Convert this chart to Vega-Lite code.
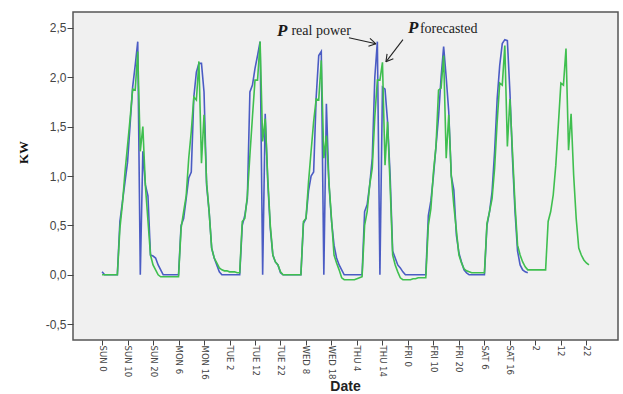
{
  "$schema": "https://vega.github.io/schema/vega-lite/v6.json",
  "width": 545,
  "height": 328,
  "autosize": {"type": "none"},
  "padding": {"left": 73, "top": 12, "right": 5, "bottom": 54},
  "background": "white",
  "config": {
    "view": {"stroke": "#555555", "strokeWidth": 1.5, "fill": "#f0f0f0"},
    "axis": {"grid": false, "domain": false, "tickColor": "#444444", "tickSize": 6, "labelFont": "Liberation Sans", "labelColor": "#444444"},
    "axisX": {"labelFont": "Liberation Sans Narrow, DejaVu Sans Condensed, Liberation Sans", "tickSize": 5, "labelAngle": 90, "labelAlign": "left", "labelBaseline": "middle", "labelFontSize": 9.5, "labelPadding": 0, "labelOverlap": false, "labelBound": false, "labelFlush": false, "labelSeparation": 0,
      "titleFont": "Liberation Sans", "titleFontWeight": "bold", "titleFontSize": 14, "titleColor": "#222222", "titleX": 272, "titleY": 50, "titleBaseline": "alphabetic", "titleAlign": "center"},
    "axisY": {"labelFontSize": 12, "labelPadding": 1, "labelOverlap": false,
      "titleFont": "Liberation Serif", "titleFontWeight": "bold", "titleFontSize": 13, "titleColor": "#111111", "titleAngle": -90, "titleX": -50, "titleY": 140, "titleAlign": "center", "titleBaseline": "middle"}
  },
  "datasets": {
    "series": [
      {"h":0,"r":0.03,"f":0},{"h":1,"r":0,"f":0},{"h":2,"r":0,"f":0},{"h":3,"r":0,"f":0},{"h":4,"r":0,"f":0},{"h":5,"r":0,"f":0},{"h":6,"r":0,"f":0},
      {"h":7,"r":0.54,"f":0.47},{"h":8,"r":0.74,"f":0.72},{"h":9,"r":0.94,"f":1.04},{"h":10,"r":1.14,"f":1.31},{"h":11,"r":1.52,"f":1.58},{"h":12,"r":1.9,"f":1.88},{"h":13,"r":2.12,"f":1.87},{"h":14,"r":2.36,"f":2.26},{"h":15,"r":0,"f":1.25},{"h":16,"r":1.25,"f":1.5},{"h":17,"r":0.91,"f":0.9},{"h":18,"r":0.8,"f":0.55},{"h":19,"r":0.2,"f":0.2},{"h":20,"r":0.19,"f":0.1},{"h":21,"r":0.17,"f":0.05},{"h":22,"r":0.1,"f":0},{"h":23,"r":0.05,"f":-0.02},
      {"h":24,"r":0,"f":-0.02},{"h":25,"r":0,"f":-0.02},{"h":26,"r":0,"f":-0.02},{"h":27,"r":0,"f":-0.02},{"h":28,"r":0,"f":-0.02},{"h":29,"r":0,"f":-0.02},{"h":30,"r":0,"f":-0.02},
      {"h":31,"r":0.5,"f":0.47},{"h":32,"r":0.57,"f":0.64},{"h":33,"r":0.77,"f":0.8},{"h":34,"r":0.98,"f":1.18},{"h":35,"r":1.04,"f":1.45},{"h":36,"r":1.8,"f":1.8},{"h":37,"r":2.05,"f":1.77},{"h":38,"r":2.14,"f":2.16},{"h":39,"r":2.14,"f":1.13},{"h":40,"r":1.85,"f":1.62},{"h":41,"r":0.91,"f":0.94},{"h":42,"r":0.64,"f":0.64},{"h":43,"r":0.27,"f":0.27},{"h":44,"r":0.17,"f":0.17},{"h":45,"r":0.1,"f":0.12},{"h":46,"r":0.03,"f":0.07},{"h":47,"r":0,"f":0.05},
      {"h":48,"r":0,"f":0.04},{"h":49,"r":0,"f":0.04},{"h":50,"r":0,"f":0.03},{"h":51,"r":0,"f":0.03},{"h":52,"r":0,"f":0.03},{"h":53,"r":0,"f":0.02},{"h":54,"r":0,"f":0.02},
      {"h":55,"r":0.5,"f":0.54},{"h":56,"r":0.6,"f":0.57},{"h":57,"r":0.77,"f":0.8},{"h":58,"r":1.85,"f":1.21},{"h":59,"r":1.92,"f":1.6},{"h":60,"r":2.09,"f":1.97},{"h":61,"r":2.22,"f":1.97},{"h":62,"r":2.36,"f":2.36},{"h":63,"r":0,"f":1.35},{"h":64,"r":1.63,"f":1.58},{"h":65,"r":0.94,"f":0.98},{"h":66,"r":0.47,"f":0.5},{"h":67,"r":0.2,"f":0.2},{"h":68,"r":0.13,"f":0.13},{"h":69,"r":0.1,"f":0.1},{"h":70,"r":0.02,"f":0.03},{"h":71,"r":0,"f":0},
      {"h":72,"r":0,"f":0},{"h":73,"r":0,"f":0},{"h":74,"r":0,"f":0},{"h":75,"r":0,"f":0},{"h":76,"r":0,"f":0},{"h":77,"r":0,"f":0},{"h":78,"r":0,"f":0},
      {"h":79,"r":0.52,"f":0.54},{"h":80,"r":0.57,"f":0.57},{"h":81,"r":0.85,"f":0.94},{"h":82,"r":1.0,"f":1.25},{"h":83,"r":1.04,"f":1.55},{"h":84,"r":1.8,"f":1.78},{"h":85,"r":2.22,"f":1.77},{"h":86,"r":2.26,"f":2.17},{"h":87,"r":0,"f":1.18},{"h":88,"r":1.73,"f":1.41},{"h":89,"r":0.92,"f":0.94},{"h":90,"r":0.55,"f":0.57},{"h":91,"r":0.3,"f":0.2},{"h":92,"r":0.17,"f":0.12},{"h":93,"r":0.1,"f":0.05},{"h":94,"r":0.05,"f":-0.03},{"h":95,"r":0,"f":-0.05},
      {"h":96,"r":0,"f":-0.05},{"h":97,"r":0,"f":-0.05},{"h":98,"r":0,"f":-0.05},{"h":99,"r":0,"f":-0.05},{"h":100,"r":0,"f":-0.04},{"h":101,"r":0,"f":-0.03},{"h":102,"r":0,"f":-0.02},
      {"h":103,"r":0.64,"f":0.5},{"h":104,"r":0.71,"f":0.64},{"h":105,"r":0.91,"f":0.91},{"h":106,"r":1.18,"f":1.08},{"h":107,"r":2.0,"f":1.6},{"h":108,"r":2.36,"f":1.97},{"h":109,"r":0,"f":1.97},{"h":110,"r":1.9,"f":2.15},{"h":111,"r":1.88,"f":1.11},{"h":112,"r":1.55,"f":1.55},{"h":113,"r":1.01,"f":0.91},{"h":114,"r":0.24,"f":0.2},{"h":115,"r":0.17,"f":0.1},{"h":116,"r":0.1,"f":0.03},{"h":117,"r":0.07,"f":-0.03},{"h":118,"r":0.03,"f":-0.05},{"h":119,"r":0,"f":-0.05},
      {"h":120,"r":0,"f":-0.05},{"h":121,"r":0,"f":-0.05},{"h":122,"r":0,"f":-0.04},{"h":123,"r":0,"f":-0.04},{"h":124,"r":0,"f":-0.03},{"h":125,"r":0,"f":-0.03},{"h":126,"r":0,"f":-0.03},{"h":127,"r":0,"f":-0.03},
      {"h":128,"r":0.6,"f":0.5},{"h":129,"r":0.75,"f":0.67},{"h":130,"r":1.0,"f":1.04},{"h":131,"r":1.3,"f":1.3},{"h":132,"r":1.6,"f":1.87},{"h":133,"r":2.0,"f":1.89},{"h":134,"r":2.31,"f":2.22},{"h":135,"r":2.0,"f":1.18},{"h":136,"r":1.65,"f":1.62},{"h":137,"r":1.0,"f":1.0},{"h":138,"r":0.86,"f":0.7},{"h":139,"r":0.4,"f":0.45},{"h":140,"r":0.22,"f":0.2},{"h":141,"r":0.13,"f":0.12},{"h":142,"r":0.05,"f":0.06},{"h":143,"r":0.02,"f":0.04},
      {"h":144,"r":0,"f":0.03},{"h":145,"r":0,"f":0.02},{"h":146,"r":0,"f":0.02},{"h":147,"r":0,"f":0.02},{"h":148,"r":0,"f":0.02},{"h":149,"r":0,"f":0.02},{"h":150,"r":0,"f":0.02},
      {"h":151,"r":0.5,"f":0.52},{"h":152,"r":0.64,"f":0.64},{"h":153,"r":0.84,"f":0.77},{"h":154,"r":1.25,"f":1.08},{"h":155,"r":1.78,"f":1.55},{"h":156,"r":2.12,"f":1.94},{"h":157,"r":2.34,"f":1.92},{"h":158,"r":2.38,"f":2.32},{"h":159,"r":2.37,"f":1.3},{"h":160,"r":1.85,"f":1.78},{"h":161,"r":1.18,"f":1.25},{"h":162,"r":0.64,"f":0.71},{"h":163,"r":0.24,"f":0.3},{"h":164,"r":0.1,"f":0.2},{"h":165,"r":0.05,"f":0.13},{"h":166,"r":0.03,"f":0.08},{"h":167,"r":0.02,"f":0.05},
      {"h":168,"f":0.05},{"h":169,"f":0.05},{"h":170,"f":0.05},{"h":171,"f":0.05},{"h":172,"f":0.05},{"h":173,"f":0.05},{"h":174,"f":0.05},
      {"h":175,"f":0.54},{"h":176,"f":0.64},{"h":177,"f":0.81},{"h":178,"f":1.11},{"h":179,"f":1.52},{"h":180,"f":1.94},{"h":181,"f":1.92},{"h":182,"f":2.29},{"h":183,"f":1.26},{"h":184,"f":1.63},{"h":185,"f":1.01},{"h":186,"f":0.57},{"h":187,"f":0.27},{"h":188,"f":0.2},{"h":189,"f":0.15},{"h":190,"f":0.12},{"h":191,"f":0.1}
    ],
    "arrows": [
      {"x1":96.86,"y1":2.399,"x2":107.45,"y2":2.338},
      {"x1":105.1,"y1":2.393,"x2":107.45,"y2":2.338},
      {"x1":104.5,"y1":2.314,"x2":107.45,"y2":2.338},
      {"x1":118.04,"y1":2.38,"x2":111.37,"y2":2.156},
      {"x1":114.27,"y1":2.186,"x2":111.37,"y2":2.156},
      {"x1":111.8,"y1":2.236,"x2":111.37,"y2":2.156}
    ],
    "bigP": [
      {"x":68.6,"y":2.419,"t":"P"},
      {"x":120.0,"y":2.446,"t":"P"}
    ],
    "subs": [
      {"x":74.3,"y":2.424,"t":"real power"},
      {"x":124.7,"y":2.446,"t":"forecasted"}
    ]
  },
  "encoding": {
    "x": {"type": "quantitative", "title": "Date",
      "scale": {"domain": [-11.4, 202.4], "nice": false, "zero": false},
      "axis": {"values": [0,10,20,30,40,50,60,70,80,90,100,110,120,130,140,150,160,170,180,190],
        "labelExpr": "datum.value < 168 ? ['SUN','MON','TUE','WED','THU','FRI','SAT'][floor(datum.value/24)] + ' ' + (datum.value % 24) : '' + (datum.value % 24)"}},
    "y": {"type": "quantitative", "title": "KW",
      "scale": {"domain": [-0.66, 2.66], "nice": false, "zero": false},
      "axis": {"values": [-0.5, 0, 0.5, 1, 1.5, 2, 2.5],
        "labelExpr": "(datum.value < 0 ? '-' : '') + replace(format(abs(datum.value), '.1f'), '.', ',')"}}
  },
  "layer": [
    {
      "data": {"name": "series"},
      "mark": {"type": "line", "color": "#4b5cc4", "strokeWidth": 1.6},
      "encoding": {"x": {"field": "h"}, "y": {"field": "r"}}
    },
    {
      "data": {"name": "series"},
      "mark": {"type": "line", "color": "#3fbf4f", "strokeWidth": 1.6},
      "encoding": {"x": {"field": "h"}, "y": {"field": "f"}}
    },
    {
      "data": {"name": "arrows"},
      "mark": {"type": "rule", "color": "#222222", "strokeWidth": 1.1},
      "encoding": {"x": {"field": "x1"}, "x2": {"field": "x2"}, "y": {"field": "y1"}, "y2": {"field": "y2"}}
    },
    {
      "data": {"name": "bigP"},
      "mark": {"type": "text", "font": "Liberation Serif", "fontStyle": "italic", "fontWeight": "bold", "fontSize": 17, "align": "left", "baseline": "alphabetic", "color": "#1a1a1a"},
      "encoding": {"x": {"field": "x"}, "y": {"field": "y"}, "text": {"field": "t"}}
    },
    {
      "data": {"name": "subs"},
      "mark": {"type": "text", "font": "Liberation Serif", "fontSize": 14, "align": "left", "baseline": "alphabetic", "color": "#222222"},
      "encoding": {"x": {"field": "x"}, "y": {"field": "y"}, "text": {"field": "t"}}
    }
  ]
}
